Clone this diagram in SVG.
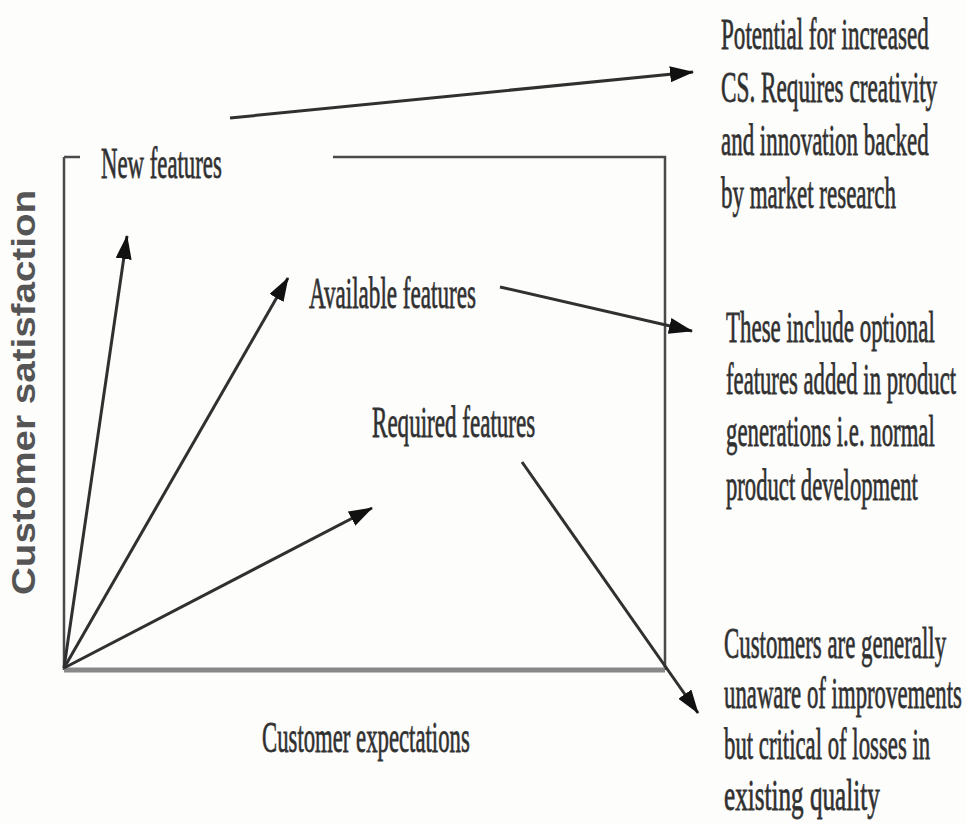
<svg xmlns="http://www.w3.org/2000/svg" width="966" height="825" viewBox="0 0 966 825">
<defs>
<style>
.t{font-family:"Liberation Serif","Times New Roman",serif;fill:#2e2e2e;font-size:44px;stroke:#3a3a3a;stroke-width:0.8}
.ax{font-family:"Liberation Sans",Arial,sans-serif;font-weight:bold;fill:#555;font-size:34px}
.frame{stroke:#4a4a4a;stroke-width:2.5;fill:none}
.conn{stroke:#303030;stroke-width:3;fill:none;marker-end:url(#ah)}
</style>
<marker id="ah" markerUnits="userSpaceOnUse" markerWidth="24" markerHeight="16" refX="23" refY="8" orient="auto" viewBox="0 0 24 16">
<path d="M0,0 L24,8 L0,16 Z" fill="#111"/>
</marker>
</defs>
<rect width="966" height="825" fill="#fdfdfc"/>
<g id="frame">
<path class="frame" d="M64,157 H80 M333,157 H665 V670 M64,157 V670"/>
<line x1="64" y1="670" x2="665" y2="670" stroke="#888" stroke-width="5"/>
</g>
<g id="connectors">
<line class="conn" x1="64" y1="668" x2="127" y2="236"/>
<line class="conn" x1="64" y1="668" x2="288" y2="278"/>
<line class="conn" x1="64" y1="668" x2="372" y2="508"/>
<line class="conn" x1="230" y1="118" x2="693" y2="72"/>
<line class="conn" x1="500" y1="287" x2="692" y2="331"/>
<line class="conn" x1="522" y1="462" x2="698" y2="713"/>
</g>
<g id="axis-y"><text class="ax" transform="translate(35,595) rotate(-90)" textLength="405" lengthAdjust="spacingAndGlyphs">Customer satisfaction</text></g>
<g id="axis-x"><text class="t" transform="translate(262,752) scale(0.53,1)" textLength="392" lengthAdjust="spacingAndGlyphs">Customer expectations</text></g>
<g id="new-features"><text class="t" transform="translate(101,178) scale(0.53,1)" textLength="228" lengthAdjust="spacingAndGlyphs">New features</text></g>
<g id="available-features"><text class="t" transform="translate(309,308) scale(0.53,1)" textLength="315" lengthAdjust="spacingAndGlyphs">Available features</text></g>
<g id="required-features"><text class="t" transform="translate(372,437) scale(0.53,1)" textLength="308" lengthAdjust="spacingAndGlyphs">Required features</text></g>
<g id="note-new">
<text class="t" transform="translate(721,49) scale(0.53,1)" textLength="392" lengthAdjust="spacingAndGlyphs">Potential for increased</text>
<text class="t" transform="translate(721,102) scale(0.53,1)" textLength="408" lengthAdjust="spacingAndGlyphs">CS. Requires creativity</text>
<text class="t" transform="translate(721,155) scale(0.53,1)" textLength="392" lengthAdjust="spacingAndGlyphs">and innovation backed</text>
<text class="t" transform="translate(721,208) scale(0.53,1)" textLength="330" lengthAdjust="spacingAndGlyphs">by market research</text>
</g>
<g id="note-available">
<text class="t" transform="translate(726,342) scale(0.53,1)" textLength="394" lengthAdjust="spacingAndGlyphs">These include optional</text>
<text class="t" transform="translate(726,394) scale(0.53,1)" textLength="434" lengthAdjust="spacingAndGlyphs">features added in product</text>
<text class="t" transform="translate(726,446) scale(0.53,1)" textLength="394" lengthAdjust="spacingAndGlyphs">generations i.e. normal</text>
<text class="t" transform="translate(726,500) scale(0.53,1)" textLength="362" lengthAdjust="spacingAndGlyphs">product development</text>
</g>
<g id="note-required">
<text class="t" transform="translate(724,658) scale(0.53,1)" textLength="419" lengthAdjust="spacingAndGlyphs">Customers are generally</text>
<text class="t" transform="translate(724,708) scale(0.53,1)" textLength="449" lengthAdjust="spacingAndGlyphs">unaware of improvements</text>
<text class="t" transform="translate(724,759) scale(0.53,1)" textLength="389" lengthAdjust="spacingAndGlyphs">but critical of losses in</text>
<text class="t" transform="translate(724,810) scale(0.53,1)" textLength="294" lengthAdjust="spacingAndGlyphs">existing quality</text>
</g>
</svg>
